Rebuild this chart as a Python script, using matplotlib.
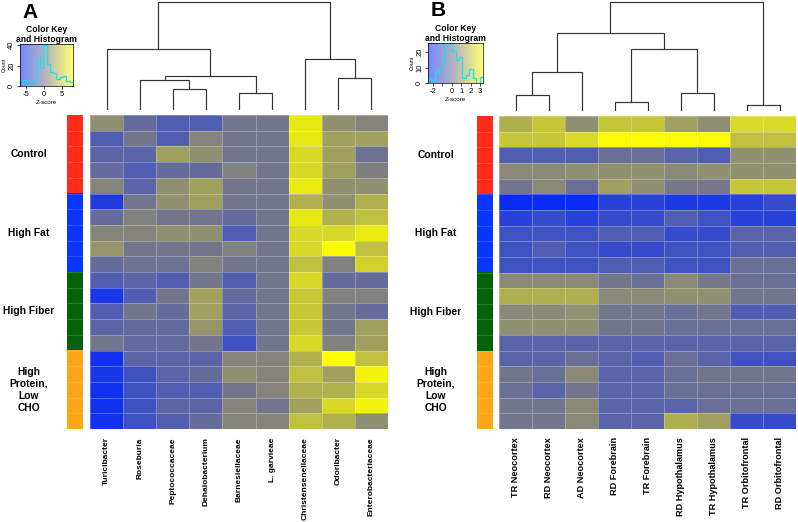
import matplotlib
matplotlib.use("Agg")
import matplotlib.pyplot as plt
import matplotlib.transforms as mtransforms
from matplotlib.colors import LinearSegmentedColormap, ListedColormap
import numpy as np

plt.rcParams["font.family"] = ["Liberation Sans", "DejaVu Sans"]

W, H = 798, 522

# ---- data ----
groups = ["Control", "High Fat", "High Fiber", "High\nProtein,\nLow\nCHO"]
group_sizes = [5, 5, 5, 5]
group_colors = ["#ff2a18", "#0a34ff", "#05620a", "#ffa518"]

taxa = ["Turicibacter", "Roseburia", "Peptococcaceae", "Dehalobacterium",
        "Barnesiellaceae", "L. garvieae", "Christensenellaceae", "Odoribacter",
        "Enterobacteriaceae"]
z_taxa = np.array([
    [1.8, -0.6, -1.9, -1.9, 0.2, 0.2, 6.8, 1.8, 1.2],
    [-1.9, 0.2, -1.9, 1.2, 0.2, 0.2, 6.8, 2.8, 2.8],
    [-1.3, -1.3, 2.8, 1.8, 0.2, 0.2, 5.9, 2.8, -0.1],
    [-0.6, -1.9, -0.6, -0.6, 1.0, 0.2, 5.9, 2.8, 0.9],
    [1.2, -1.3, 1.8, 2.8, 0.2, 0.2, 7.0, 1.8, 1.8],
    [-4.8, 0.2, 1.8, 2.8, 0.2, 0.2, 3.7, 1.8, 3.7],
    [-0.6, 1.0, 0.2, 0.2, -0.6, 0.2, 6.8, 3.7, 4.5],
    [1.2, 1.2, 1.8, 1.8, -1.9, 0.2, 5.9, 5.9, 7.0],
    [2.2, 0.2, 0.2, 0.2, 1.0, 0.2, 5.9, 7.8, 4.5],
    [-0.6, -0.1, -0.1, 1.0, 0.2, 0.2, 4.5, 1.0, 5.6],
    [-1.9, -1.3, -1.9, 0.2, -1.9, 0.2, 5.9, -0.6, -0.6],
    [-5.2, -1.9, 0.2, 2.8, -0.8, 0.2, 5.0, 1.0, 1.0],
    [-1.9, 0.2, -0.6, 2.8, -1.3, 0.2, 5.0, 0.2, -0.6],
    [-1.3, -0.8, -0.8, 2.2, -1.9, 0.2, 5.0, 0.2, 2.8],
    [0.2, -0.8, -0.8, 0.2, -2.9, 0.2, 5.9, 1.0, 2.8],
    [-5.7, -1.3, -1.3, -1.3, 1.2, 1.2, 3.7, 8.0, 4.5],
    [-5.2, -2.9, -1.3, -0.6, 1.8, 1.2, 4.5, 2.8, 7.4],
    [-5.7, -2.9, -1.9, -1.9, 0.2, 1.2, 3.7, 3.7, 5.9],
    [-5.7, -2.9, -1.3, -1.3, 1.2, 0.2, 2.8, 5.9, 7.4],
    [-5.7, -2.9, -1.9, -0.6, 1.2, 1.2, 4.5, 3.7, 1.8],
])
# merges: (child a, child b, height); leaves 0..n-1, new nodes n, n+1, ...
merges_taxa = [(2, 3, 21), (4, 5, 17), (1, 9, 30), (11, 10, 34),
               (0, 12, 61), (7, 8, 32), (6, 14, 51), (13, 15, 108)]
key_range_taxa = (-6.7, 8.1)
key_xticks_taxa = [-5, 0, 5]
key_xlabels_taxa = ["-5", "0", "5"]
key_yticks_taxa = [0, 20, 40]
key_ymax_taxa = 41

regions = ["TR Neocortex", "RD Neocortex", "AD Neocortex", "RD Forebrain",
           "TR Forebrain", "RD Hypothalamus", "TR Hypothalamus",
           "TR Orbitofrontal", "RD Orbitofrontal"]
z_regions = np.array([
    [1.55, 2.05, 0.85, 2.05, 2.05, 1.2, 0.85, 2.45, 2.45],
    [2.05, 2.05, 2.45, 3.2, 3.2, 3.2, 3.2, 1.9, 1.9],
    [-0.6, -0.6, -0.6, 0.0, 0.0, -0.4, -0.6, 0.85, 0.85],
    [0.7, 0.7, 0.85, 0.85, 0.85, 0.7, 0.85, 0.85, 0.85],
    [0.2, 0.7, 0.0, 1.2, 0.85, 0.3, 0.3, 2.05, 2.05],
    [-2.3, -2.3, -2.3, -1.55, -1.55, -1.8, -1.8, -1.55, -1.25],
    [-1.55, -1.25, -1.55, -1.25, -1.25, -0.6, -1.0, -1.55, -1.55],
    [-1.0, -1.0, -1.0, -0.6, -0.6, -1.25, -1.25, -0.4, -0.4],
    [-1.0, -0.6, -1.0, -1.25, -1.25, -1.0, -1.0, -0.6, -0.6],
    [-1.0, -1.0, -1.0, -0.6, -0.6, -1.0, -1.0, 0.0, 0.0],
    [0.7, 0.7, 0.7, 0.2, 0.0, 0.7, 0.3, 0.0, 0.0],
    [1.55, 1.55, 1.55, 0.7, 0.7, 0.85, 0.85, 0.2, 0.2],
    [0.7, 0.7, 0.85, 0.2, 0.2, 0.0, 0.2, -0.6, -0.6],
    [0.85, 0.85, 0.85, 0.2, 0.2, 0.0, 0.0, 0.0, 0.0],
    [-0.4, -0.4, -0.4, -0.4, -0.4, -0.4, -0.4, -0.4, -0.4],
    [-0.4, -0.4, 0.0, -0.4, -0.6, 0.0, -0.4, -1.0, -1.0],
    [0.2, 0.0, 0.7, -0.4, -0.4, 0.0, 0.2, 0.2, 0.2],
    [0.0, -0.4, 0.2, -0.4, -0.4, 0.0, 0.0, 0.0, 0.0],
    [0.2, 0.2, 0.7, -0.4, -0.4, -0.4, 0.0, 0.0, 0.0],
    [0.2, 0.2, 0.7, -0.4, -0.4, 1.55, 1.2, -1.25, -1.25],
])
merges_regions = [(0, 1, 16), (9, 2, 39), (3, 4, 9), (5, 6, 18),
                  (11, 12, 61), (10, 13, 77), (7, 8, 6), (14, 15, 108)]
key_range_regions = (-2.5, 3.3)
key_xticks_regions = [-2, -1, 0, 1, 2, 3]
key_xlabels_regions = ["-2", "", "0", "1", "2", "3"]
key_yticks_regions = [0, 10, 20]
key_ymax_regions = 26

CMAP = LinearSegmentedColormap.from_list("bgy", ["#0026ff", "#7b7b85", "#ffff00"])
HIST_COLOR = "#18e0f0"
DEND_COLOR = "#333333"

fig = plt.figure(figsize=(W / 100, H / 100), dpi=100)


def px_axes(x0, y0, x1, y1):
    return fig.add_axes([x0 / W, 1 - y1 / H, (x1 - x0) / W, (y1 - y0) / H])


def draw_dendro(ax, merges, n):
    xs = {i: i + 0.5 for i in range(n)}
    ys = {i: 0.0 for i in range(n)}
    for k, (a, b, h) in enumerate(merges):
        ax.plot([xs[a], xs[a], xs[b], xs[b]], [ys[a], h, h, ys[b]],
                color=DEND_COLOR, lw=0.85, solid_joinstyle="miter")
        xs[n + k] = (xs[a] + xs[b]) / 2
        ys[n + k] = h
    ax.set_xlim(0, n)
    ax.set_ylim(0, 110)
    ax.axis("off")


def draw_panel(letter, z, cols, merges, krange, kxt, kxl, kyt, kymax,
               side, heat, dend_bottom, key, label_x, letter_xy, col_fs):
    m, n = z.shape
    vmin, vmax = krange

    # heatmap
    ax = px_axes(*heat)
    ax.pcolormesh(np.arange(n + 1), np.arange(m + 1), z, cmap=CMAP,
                  vmin=vmin, vmax=vmax, edgecolors=(1, 1, 1, 0.28), linewidth=0.6)
    ax.set_xlim(0, n)
    ax.set_ylim(m, 0)
    ax.axis("off")
    tr = mtransforms.blended_transform_factory(ax.transData, ax.transAxes)
    for i, c in enumerate(cols):
        ax.text(i + 0.5, -0.026, c, transform=tr, rotation=90, ha="center",
                va="top", fontsize=col_fs, fontweight="bold")

    # side colour bar
    sax = px_axes(side[0], heat[1], side[1], heat[3])
    gidx = np.repeat(np.arange(len(group_sizes)), group_sizes)
    sax.imshow(gidx[:, None], cmap=ListedColormap(group_colors), aspect="auto",
               interpolation="nearest", extent=[0, 1, m, 0],
               vmin=-0.5, vmax=len(group_sizes) - 0.5)
    sax.hlines(np.arange(1, m), 0, 1, color=(1, 1, 1, 0.18), lw=0.6)
    sax.set_xlim(0, 1)
    sax.set_ylim(m, 0)
    sax.axis("off")
    ltr = mtransforms.blended_transform_factory(fig.transFigure, sax.transData)
    edges = np.concatenate([[0], np.cumsum(group_sizes)])
    for g, lab in enumerate(groups):
        fig.text(label_x / W, (edges[g] + edges[g + 1]) / 2, lab, transform=ltr,
                 ha="center", va="center", multialignment="center",
                 fontsize=7.4, fontweight="bold", linespacing=1.25)

    # dendrogram
    dax = px_axes(heat[0], 0, heat[2], dend_bottom)
    draw_dendro(dax, merges, n)

    # colour key + histogram
    kax = px_axes(*key)
    grad = np.linspace(vmin, vmax, 256)[None, :]
    kax.imshow(grad, cmap=CMAP, vmin=vmin, vmax=vmax, alpha=0.55, aspect="auto",
               extent=[vmin, vmax, 0, kymax], interpolation="bilinear")
    kax.hist(z.ravel(), bins=np.linspace(vmin, vmax, 17), histtype="step",
             color=HIST_COLOR, lw=0.9)
    kax.set_xlim(vmin, vmax)
    kax.set_ylim(0, kymax)
    kax.set_xticks(kxt)
    kax.set_xticklabels(kxl)
    kax.set_yticks(kyt)
    kax.set_yticklabels([str(t) for t in kyt], rotation=90, va="center")
    kax.tick_params(labelsize=5.5, length=2, width=0.5, pad=1.5)
    for s in kax.spines.values():
        s.set_linewidth(0.5)
    kax.set_xlabel("Z-score", fontsize=4.5, labelpad=1.5)
    kax.set_ylabel("Count", fontsize=3.8, labelpad=1)
    kax.set_title("Color Key\nand Histogram", fontsize=6.2, fontweight="bold",
                  pad=-1, linespacing=1.1)

    fig.text(letter_xy[0] / W, 1 - letter_xy[1] / H, letter, fontsize=15,
             fontweight="bold", ha="center", va="center")


draw_panel("A", z_taxa, taxa, merges_taxa, key_range_taxa, key_xticks_taxa,
           key_xlabels_taxa, key_yticks_taxa, key_ymax_taxa,
           side=(67, 83), heat=(90, 115, 388, 429), dend_bottom=110,
           key=(20, 44, 73, 86), label_x=29, letter_xy=(30, 12), col_fs=6.0)
draw_panel("B", z_regions, regions, merges_regions, key_range_regions,
           key_xticks_regions, key_xlabels_regions, key_yticks_regions,
           key_ymax_regions,
           side=(477, 493), heat=(499, 116, 796, 429), dend_bottom=111,
           key=(428, 43, 483, 83), label_x=436, letter_xy=(438, 11), col_fs=6.6)

fig.savefig("out.png", dpi=100)
